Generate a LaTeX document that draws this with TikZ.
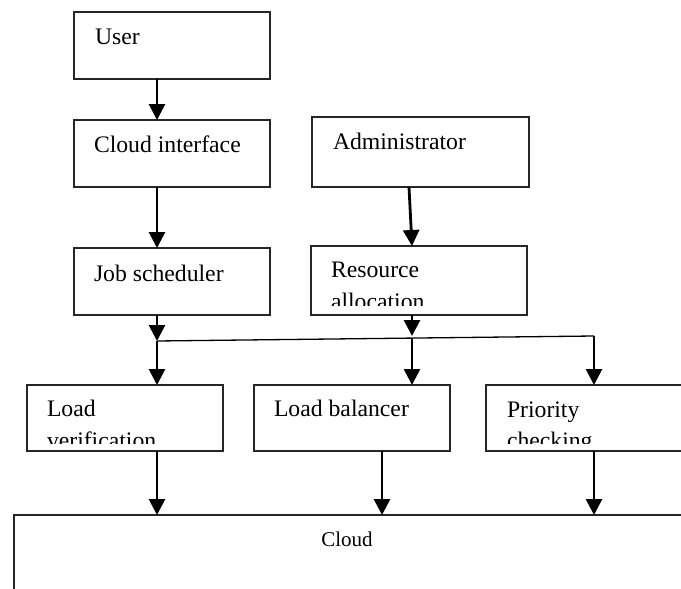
\documentclass[tikz,border=0pt]{standalone}
\usepackage{fontspec}
\setmainfont{Liberation Serif}
\usetikzlibrary{arrows.meta}
\tikzset{
  box/.style={draw=black!85, line width=1.2pt, fill=white, inner sep=0pt, outer sep=0pt, anchor=north west},
  lbl/.style={inner sep=0pt, outer sep=0pt, anchor=base west, font=\fontsize{23.7}{28}\selectfont, text=black},
  arr/.style={line width=2.8pt, -{Triangle[length=16pt,width=16pt]}},
  link/.style={line width=1.3pt}
}
\begin{document}
\begin{tikzpicture}[x=1pt,y=-1pt]
\clip (0,0) rectangle (681,589);
\fill[white] (0,0) rectangle (681,589);
% boxes
\node[box, minimum width=196pt, minimum height=67pt] (user) at (74,12) {};
\node[box, minimum width=196pt, minimum height=67pt] (ci) at (74,120) {};
\node[box, minimum width=196pt, minimum height=67pt] (js) at (74,248) {};
\node[box, minimum width=217pt, minimum height=70pt] (adm) at (312,117) {};
\node[box, minimum width=216pt, minimum height=69pt] (ra) at (311,246) {};
\node[box, minimum width=196pt, minimum height=66pt] (lv) at (27,385) {};
\node[box, minimum width=196pt, minimum height=66pt] (lb) at (254,385) {};
\node[box, minimum width=210pt, minimum height=66pt] (pc) at (486,385) {};
\node[box, minimum width=700pt, minimum height=110pt] (cloud) at (14,515) {};
% labels
\node[lbl] (tuser) at (95,44) {User};
\node[lbl] (tci) at (94,152) {Cloud interface};
\node[lbl] (tjs) at (94,281) {Job scheduler};
\node[lbl] (tadm) at (333,149) {Administrator};
\node[lbl] (tra1) at (331,277) {Resource};
\begin{scope}
\clip (311,246) rectangle (527,305);
\node[lbl] (tra2) at (331,309) {allocation};
\end{scope}
\node[lbl] (tlv1) at (47,416) {Load};
\begin{scope}
\clip (27,385) rectangle (223,443);
\node[lbl] (tlv2) at (47,448) {verification};
\end{scope}
\node[lbl] (tlb) at (274,416) {Load balancer};
\node[lbl] (tpc1) at (507,417) {Priority};
\begin{scope}
\clip (486,385) rectangle (681,443);
\node[lbl] (tpc2) at (507,448) {checking};
\end{scope}
\node[inner sep=0pt, anchor=base, font=\fontsize{21}{25}\selectfont, text=black] (tcloud) at (347,546) {Cloud};
% helper coordinates
\coordinate (xl) at (157,0);
\coordinate (xb) at (382,0);
\coordinate (xr) at (594,0);
\coordinate (j1) at (157,341);
\coordinate (j2) at (412,338.2);
\coordinate (j3) at (594,336);
\coordinate (rtip) at (412,336);
\coordinate (atop) at (409,0);
\coordinate (abot) at (412,0);
% connectors
\draw[arr] (user.south -| xl) -- (ci.north -| xl);
\draw[arr] (ci.south -| xl) -- (js.north -| xl);
\draw[arr] (adm.south -| atop) -- (ra.north -| abot);
\draw[arr] (js.south -| xl) -- (j1);
\draw[arr] (ra.south -| rtip) -- (rtip);
\draw[link] (j1) -- (j3);
\draw[arr] (j1) -- (lv.north -| j1);
\draw[arr] (j2) -- (lb.north -| j2);
\draw[arr] (j3) -- (pc.north -| j3);
\draw[arr] (lv.south -| xl) -- (cloud.north -| xl);
\draw[arr] (lb.south -| xb) -- (cloud.north -| xb);
\draw[arr] (pc.south -| xr) -- (cloud.north -| xr);
\end{tikzpicture}
\end{document}
